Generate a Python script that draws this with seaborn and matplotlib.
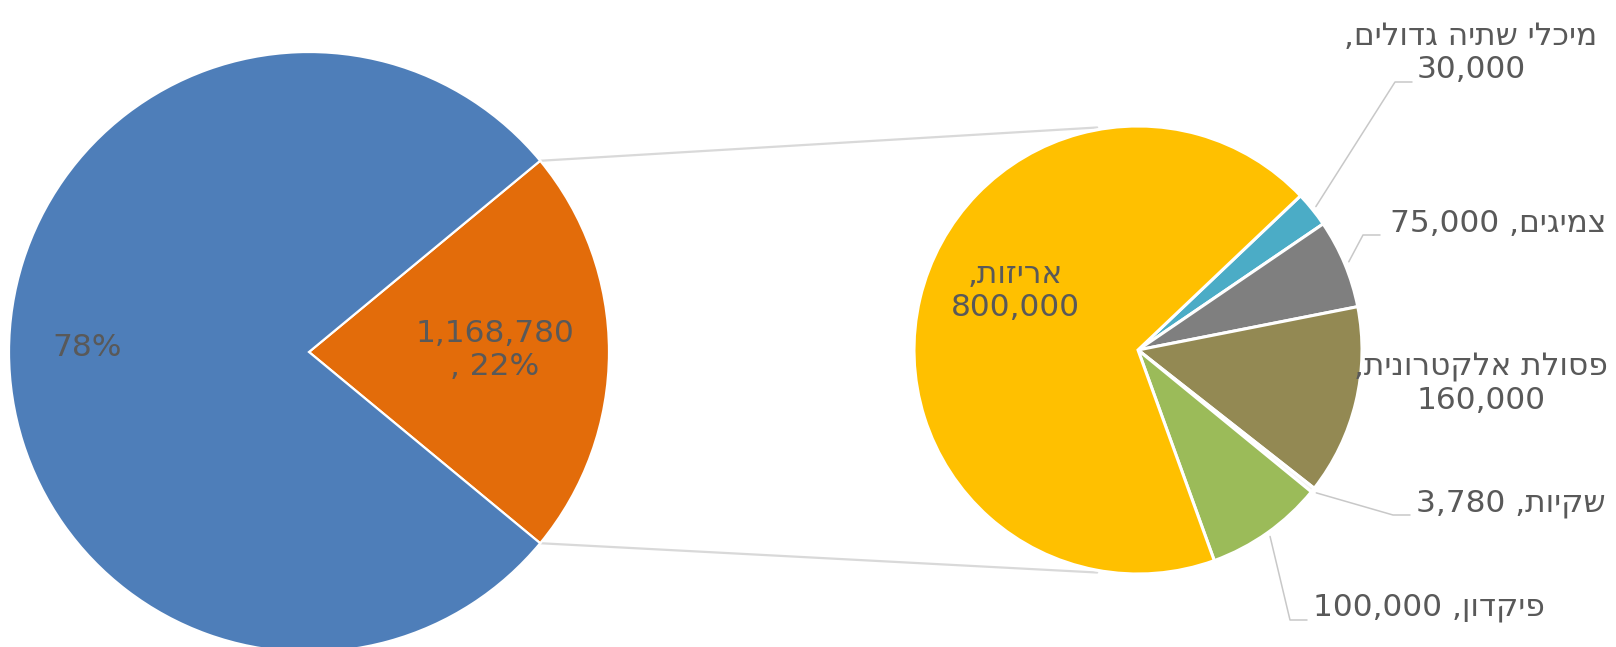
import matplotlib
matplotlib.use("Agg")
import matplotlib.pyplot as plt
import numpy as np
import seaborn as sns

W, H = 1616, 647

# big pie: detailed group vs. everything else (percent)
main_shares = [22, 78]
main_colors = ["#E36C0A", "#4E7EB9"]

# small pie: breakdown of the 22% slice, clockwise from the top-right
sub_names = ["מיכלי שתיה גדולים", "צמיגים", "פסולת אלקטרונית", "שקיות", "פיקדון", "אריזות"]
sub_values = [30000, 75000, 160000, 3780, 100000, 800000]
sub_colors = ["#4BACC6", "#7F7F7F", "#938953", "#F4F4F0", "#9BBB59", "#FFC000"]

# label layout (pixel coords, y down): text centre, line style, leader elbow
sub_label_xy = [(1471, 53), (1498, 224), (1481, 384), (1511, 504), (1429, 608), (1015, 291)]
sub_label_style = ["wrap", "line", "wrap", "line", "line", "wrap"]
sub_leader = [(1395, 82), (1363, 235), None, (1393, 515), (1290, 620), None]

TEXT = "#595959"
FS = 22.5


def up(y):
    return H - y


def rtl(s):
    # matplotlib has no bidi support, so hand it the visual order
    return s[::-1]


def on_circle(center, r, deg):
    a = np.deg2rad(deg)
    return center[0] + r * np.cos(a), center[1] + r * np.sin(a)


sns.set_theme(style="white")
plt.rcParams["font.family"] = ["DejaVu Sans"]

fig = plt.figure(figsize=(W / 100, H / 100), dpi=100)
ax = fig.add_axes([0, 0, 1, 1])

main_center = (309, up(352))
main_r = 300
sub_center = (1138, up(350))
sub_r = 224

main_wedges, _ = ax.pie(
    main_shares, colors=main_colors, center=main_center, radius=main_r,
    startangle=-main_shares[0] * 3.6 / 2, counterclock=True,
    wedgeprops=dict(edgecolor="white", linewidth=1.6), frame=True,
)
sub_wedges, _ = ax.pie(
    sub_values, colors=sub_colors, center=sub_center, radius=sub_r,
    startangle=43.5, counterclock=False,
    wedgeprops=dict(edgecolor="white", linewidth=2.2), frame=True,
)

# connector lines between the two pies
w = main_wedges[0]
for th_main, th_sub in [(w.theta2, 100.4), (w.theta1, -100.4)]:
    p0 = on_circle(main_center, main_r, th_main)
    p1 = on_circle(sub_center, sub_r * 1.01, th_sub)
    ax.plot([p0[0], p1[0]], [p0[1], p1[1]], color="#D9D9D9", lw=1.6, zorder=0)

# big pie labels
total = sum(sub_values)
ax.text(87, up(348), f"{main_shares[1]}%", ha="center", va="center",
        fontsize=FS, color=TEXT)
ax.text(495, up(350), f"{total:,}\n, {main_shares[0]}%", ha="center", va="center",
        fontsize=FS, color=TEXT, multialignment="center", linespacing=1.2)

# small pie labels and leader lines
for wedge, name, val, xy, style, elbow in zip(
    sub_wedges, sub_names, sub_values, sub_label_xy, sub_label_style, sub_leader
):
    if style == "wrap":
        txt = f"{rtl(name + ',')}\n{val:,}"
    else:
        txt = f"{val:,} {rtl(name + ',')}"
    ax.text(xy[0], up(xy[1]), txt, ha="center", va="center", fontsize=FS,
            color=TEXT, multialignment="center", linespacing=1.2, zorder=5)
    if elbow is not None:
        mid = (wedge.theta1 + wedge.theta2) / 2
        a = on_circle(sub_center, sub_r * 1.02, mid)
        ex, ey = elbow[0], up(elbow[1])
        ax.plot([a[0], ex, ex + 17], [a[1], ey, ey], color="#C8C8C8", lw=1.1)

ax.set_xlim(0, W)
ax.set_ylim(0, H)
ax.set_aspect("equal")
ax.axis("off")

fig.savefig("out.png", dpi=100, facecolor="white")
